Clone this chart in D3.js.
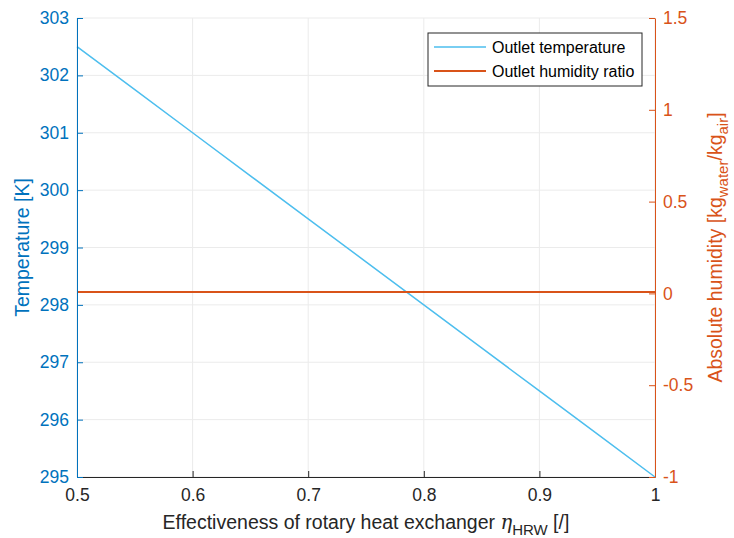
<!DOCTYPE html>
<html lang="en">
<head>
<meta charset="UTF-8">
<title>Outlet temperature and humidity ratio</title>
<script src="https://d3js.org/d3.v7.min.js"></script>
<style>
    body { margin: 0; background: #fff; }
    svg { font-family: "Liberation Sans", Arial, Helvetica, sans-serif; }
</style>
</head>
<body>
<svg id="chart" width="734" height="538"></svg>
<script>
    // effectiveness values (x) and the two outlet series
    const effectiveness = [0.5, 0.55, 0.6, 0.65, 0.7, 0.75, 0.8, 0.85, 0.9, 0.95, 1.0];
    const outletTemp = [302.5, 301.75, 301.0, 300.25, 299.5, 298.75, 298.0, 297.25, 296.5, 295.75, 295.0];
    const outletHumidity = [0.008, 0.008, 0.008, 0.008, 0.008, 0.008, 0.008, 0.008, 0.008, 0.008, 0.008];

    const xTicks = [0.5, 0.6, 0.7, 0.8, 0.9, 1];
    const leftTicks = [295, 296, 297, 298, 299, 300, 301, 302, 303];
    const rightTicks = [-1, -0.5, 0, 0.5, 1, 1.5];

    const blue = "#0072BD", lightBlue = "#4DBEEE", orange = "#D95319";

    const svg = d3.select("#chart");
    const margin = { top: 18, right: 79, bottom: 61, left: 77 };
    const W = +svg.attr("width"), H = +svg.attr("height");

    const x = d3.scaleLinear().domain([0.5, 1]).range([margin.left, W - margin.right]);
    const yL = d3.scaleLinear().domain([295, 303]).range([H - margin.bottom, margin.top]);
    const yR = d3.scaleLinear().domain([-1, 1.5]).range([H - margin.bottom, margin.top]);

    // grid lines
    svg.append("g")
        .selectAll("line.vg").data(xTicks).enter().append("line")
        .attr("x1", d => x(d)).attr("x2", d => x(d))
        .attr("y1", margin.top).attr("y2", H - margin.bottom)
        .attr("stroke", "#ebebeb").attr("stroke-width", 1);
    svg.append("g")
        .selectAll("line.hg").data(leftTicks).enter().append("line")
        .attr("x1", margin.left).attr("x2", W - margin.right)
        .attr("y1", d => yL(d)).attr("y2", d => yL(d))
        .attr("stroke", "#ebebeb").attr("stroke-width", 1);

    // series
    const pts = effectiveness.map((e, i) => ({ e, t: outletTemp[i], h: outletHumidity[i] }));
    svg.append("path").datum(pts)
        .attr("fill", "none").attr("stroke", lightBlue).attr("stroke-width", 1.5)
        .attr("d", d3.line().x(d => x(d.e)).y(d => yL(d.t)));
    svg.append("path").datum(pts)
        .attr("fill", "none").attr("stroke", orange).attr("stroke-width", 2)
        .attr("d", d3.line().x(d => x(d.e)).y(d => yR(d.h)));

    const plain = d => String(d);  // plain hyphen minus like MATLAB

    // bottom axis (ticks point inward)
    const gx = svg.append("g")
        .attr("transform", `translate(0,${H - margin.bottom})`)
        .call(d3.axisBottom(x).tickValues(xTicks).tickFormat(plain).tickSizeInner(-6).tickSizeOuter(0).tickPadding(12));
    gx.select(".domain").attr("stroke", "#262626");
    gx.selectAll(".tick line").attr("stroke", "#262626");
    gx.selectAll("text").attr("font-size", "17.5px").attr("fill", "#262626");

    // left axis
    const gl = svg.append("g")
        .attr("transform", `translate(${margin.left},0)`)
        .call(d3.axisLeft(yL).tickValues(leftTicks).tickFormat(plain).tickSizeInner(-6).tickSizeOuter(0).tickPadding(8));
    gl.select(".domain").attr("stroke", blue);
    gl.selectAll(".tick line").attr("stroke", blue);
    gl.selectAll("text").attr("font-size", "17.5px").attr("fill", blue);

    // right axis
    const gr = svg.append("g")
        .attr("transform", `translate(${W - margin.right},0)`)
        .call(d3.axisRight(yR).tickValues(rightTicks).tickFormat(plain).tickSizeInner(-6).tickSizeOuter(0).tickPadding(8));
    gr.select(".domain").attr("stroke", orange);
    gr.selectAll(".tick line").attr("stroke", orange);
    gr.selectAll("text").attr("font-size", "17.5px").attr("fill", orange);

    // axis titles
    const xl = svg.append("text")
        .attr("x", (margin.left + W - margin.right) / 2).attr("y", 529)
        .attr("text-anchor", "middle").attr("font-size", "19.5px").attr("fill", "#262626");
    xl.append("tspan").text("Effectiveness of rotary heat exchanger ");
    xl.append("tspan").text("η").attr("font-family", "DejaVu Serif").attr("font-style", "italic");
    xl.append("tspan").text("HRW").attr("font-size", "15px").attr("dy", 6);
    xl.append("tspan").text(" [/]").attr("dy", -6);

    svg.append("text")
        .attr("transform", `translate(29,${(margin.top + H - margin.bottom) / 2}) rotate(-90)`)
        .attr("text-anchor", "middle").attr("font-size", "19.5px").attr("fill", blue)
        .text("Temperature [K]");

    const rl = svg.append("text")
        .attr("transform", `translate(722,${(margin.top + H - margin.bottom) / 2}) rotate(-90)`)
        .attr("text-anchor", "middle").attr("font-size", "19.5px").attr("fill", orange);
    rl.append("tspan").text("Absolute humidity [kg");
    rl.append("tspan").text("water").attr("font-size", "15px").attr("dy", 6);
    rl.append("tspan").text("/kg").attr("dy", -6);
    rl.append("tspan").text("air").attr("font-size", "15px").attr("dy", 6);
    rl.append("tspan").text("]").attr("dy", -6);

    // legend
    const legend = svg.append("g").attr("transform", "translate(428,33)");
    legend.append("rect").attr("width", 214).attr("height", 53)
        .attr("fill", "#fff").attr("stroke", "#262626").attr("stroke-width", 1);
    const items = [{ name: "Outlet temperature", color: lightBlue }, { name: "Outlet humidity ratio", color: orange }];
    items.forEach((it, i) => {
        const yy = 14 + i * 24;
        legend.append("line").attr("x1", 6).attr("x2", 58).attr("y1", yy).attr("y2", yy)
            .attr("stroke", it.color).attr("stroke-width", it.color === orange ? 2 : 1.5);
        legend.append("text").attr("x", 64).attr("y", yy + 6)
            .attr("font-size", "16px").attr("fill", "#000").text(it.name);
    });
</script>
</body>
</html>
